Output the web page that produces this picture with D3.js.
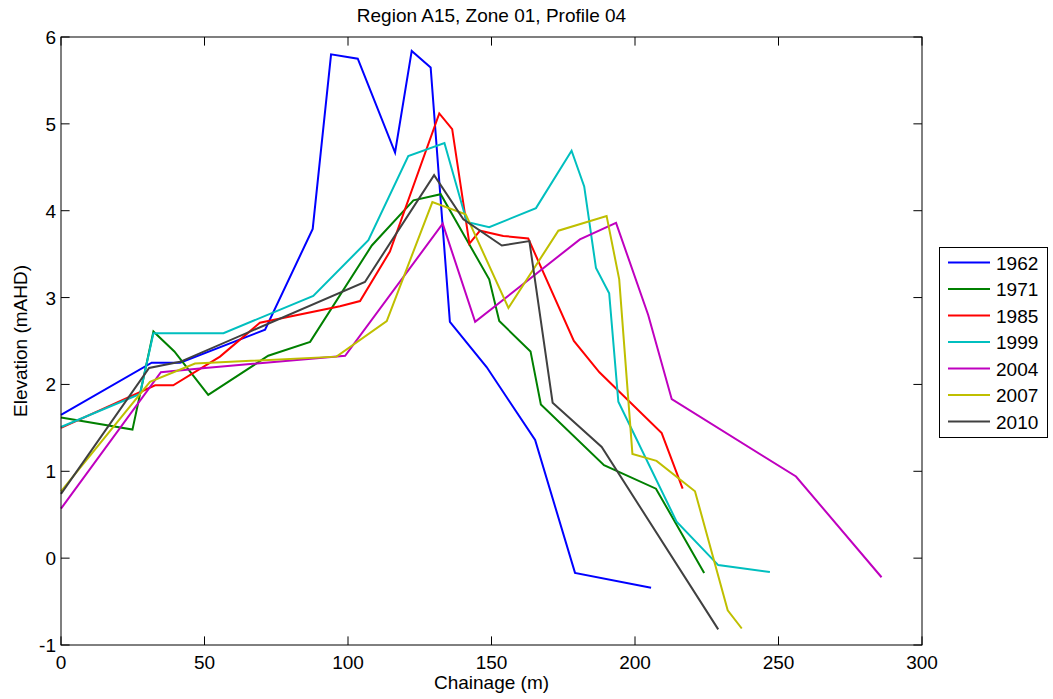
<!DOCTYPE html>
<html><head><meta charset="utf-8">
<script src="https://cdn.jsdelivr.net/npm/d3@7"></script>
<style>body{margin:0;background:#fff;} text{font-family:"Liberation Sans",Arial,sans-serif;fill:#000;}</style>
</head><body><svg id="c" width="1053" height="699"></svg>
<script>
const years = ["1962","1971","1985","1999","2004","2007","2010"];
const colors = ["#0000ff","#008000","#ff0000","#00bfbf","#bf00bf","#bfbf00","#404040"];
const xTicks = [0,50,100,150,200,250,300];
const yTicks = [-1,0,1,2,3,4,5,6];
const s1962 = [[0,1.65],[31.6,2.25],[41.5,2.25],[71.1,2.63],[87.7,3.79],[94.1,5.80],[103.4,5.75],[116.4,4.67],[122.2,5.84],[128.8,5.65],[135.5,2.72],[148.3,2.20],[165.2,1.36],[179.1,-0.17],[205.6,-0.34]];
const s1971 = [[0,1.62],[24.9,1.48],[32.2,2.61],[39.5,2.38],[51.3,1.88],[72.2,2.33],[86.8,2.49],[108.3,3.60],[122.8,4.12],[132.3,4.19],[149.2,3.21],[152.7,2.73],[163.6,2.38],[167.2,1.77],[189.2,1.07],[207.3,0.80],[224.1,-0.17]];
const s1985 = [[0,1.50],[32.8,1.99],[39.1,1.99],[55.4,2.32],[69.3,2.71],[97.2,2.90],[104.2,2.96],[114.6,3.53],[131.8,5.12],[136.3,4.94],[142.3,3.62],[146,3.77],[154.1,3.71],[162.8,3.68],[178.7,2.50],[187.6,2.14],[209.3,1.44],[216.6,0.80]];
const s1999 = [[0,1.51],[27.5,1.89],[32.2,2.59],[56.6,2.59],[87.9,3.02],[107.1,3.66],[121,4.63],[133.6,4.78],[141.4,3.87],[149.2,3.81],[165.5,4.03],[177.9,4.69],[182.3,4.28],[186.4,3.34],[191,3.05],[194.2,1.80],[214.5,0.42],[229,-0.08],[247,-0.16]];
const s2004 = [[0,0.57],[34.8,2.14],[50.2,2.19],[99,2.33],[133,3.85],[144.3,2.72],[180.8,3.67],[193.4,3.86],[204.6,2.80],[212.8,1.83],[256.1,0.94],[285.9,-0.22]];
const s2007 = [[0,0.77],[31,2.03],[46.7,2.24],[96,2.32],[113.5,2.73],[129.4,4.10],[141,3.96],[155.9,2.88],[173.3,3.77],[190.1,3.94],[194.5,3.21],[199.1,1.20],[207.5,1.12],[220.9,0.77],[232.3,-0.60],[237.2,-0.81]];
const s2010 = [[0,0.74],[30.7,2.19],[41.5,2.26],[105.9,3.18],[130,4.41],[140.2,3.90],[153.6,3.60],[163.2,3.65],[171.3,1.79],[188.4,1.28],[229,-0.82]];
const series = [s1962,s1971,s1985,s1999,s2004,s2007,s2010];

const L=61,R=922,T=37,B=645;
const FS=19;
const svg=d3.select("#c");
const x=d3.scaleLinear().domain([0,300]).range([L,R]);
const y=d3.scaleLinear().domain([-1,6]).range([B,T]);
const tl=8.6;

const g=svg.append("g");
const line=d3.line().x(d=>x(d[0])).y(d=>y(d[1]));
series.forEach((s,i)=>{
  g.append("path").attr("d",line(s)).attr("fill","none").attr("stroke",colors[i]).attr("stroke-width",2).attr("stroke-linejoin","miter");
});
const ax=svg.append("g").attr("stroke","#000").attr("stroke-width",1);
ax.append("rect").attr("x",L).attr("y",T).attr("width",R-L).attr("height",B-T).attr("fill","none");
xTicks.forEach(t=>{
  ax.append("line").attr("x1",x(t)).attr("x2",x(t)).attr("y1",B).attr("y2",B-tl);
  ax.append("line").attr("x1",x(t)).attr("x2",x(t)).attr("y1",T).attr("y2",T+tl);
  svg.append("text").attr("x",x(t)).attr("y",B+24).attr("text-anchor","middle").attr("font-size",FS).text(t);
});
yTicks.forEach(t=>{
  ax.append("line").attr("x1",L).attr("x2",L+tl).attr("y1",y(t)).attr("y2",y(t));
  ax.append("line").attr("x1",R).attr("x2",R-tl).attr("y1",y(t)).attr("y2",y(t));
  svg.append("text").attr("x",L-5).attr("y",y(t)+7).attr("text-anchor","end").attr("font-size",FS).text(t);
});
svg.append("text").attr("x",(L+R)/2).attr("y",22).attr("text-anchor","middle").attr("font-size",FS).text("Region A15, Zone 01, Profile 04");
svg.append("text").attr("x",(L+R)/2).attr("y",689).attr("text-anchor","middle").attr("font-size",FS).text("Chainage (m)");
svg.append("text").attr("transform","translate(27,"+((T+B)/2)+") rotate(-90)").attr("text-anchor","middle").attr("font-size",FS).text("Elevation (mAHD)");
const lg=svg.append("g");
lg.append("rect").attr("x",939.5).attr("y",247.5).attr("width",108).attr("height",190).attr("fill","#fff").attr("stroke","#000");
years.forEach((yr,i)=>{
  const cy=262.5+i*26.5;
  lg.append("line").attr("x1",948).attr("x2",990).attr("y1",cy).attr("y2",cy).attr("stroke",colors[i]).attr("stroke-width",2);
  lg.append("text").attr("x",996).attr("y",cy+7).attr("font-size",FS).text(yr);
});
</script></body></html>
